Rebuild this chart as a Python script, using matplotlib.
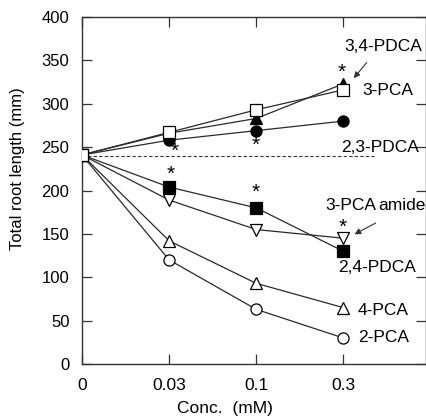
import matplotlib
matplotlib.use("Agg")
import matplotlib.pyplot as plt

plt.rcParams['font.family'] = ['Liberation Sans', 'DejaVu Sans']

conc_labels = ["0", "0.03", "0.1", "0.3"]
control = 240

pca3 = [241, 267, 293, 316]          # open square
pdca34 = [241, 266, 283, 323]        # filled triangle
pdca23 = [241, 258, 269, 280]        # filled circle
pdca24 = [241, 204, 180, 130]        # filled square
amide3 = [241, 189, 155, 145]        # open inverted triangle
pca4 = [241, 142, 93, 65]            # open triangle
pca2 = [241, 120, 63, 30]            # open circle

star_x = [1.07, 1.02, 2.0, 2.0, 2.98, 2.99]
star_y = [245, 219, 252, 198, 336, 158]

fig = plt.figure(figsize=(4.27, 4.20), dpi=100)
W, H = 427, 420
ax = fig.add_axes([82 / W, 1 - 364 / H, (426 - 82) / W, (364 - 17) / H])

x = list(range(len(conc_labels)))
lc = '#2a2a2a'
ms = 8
common = dict(color=lc, lw=0.9, markeredgecolor='black', markeredgewidth=0.9, markersize=ms, zorder=3)

ax.plot(x, pca2, marker='o', markerfacecolor='white', **common)
ax.plot(x, pca4, marker='^', markerfacecolor='white', **common)
ax.plot(x, amide3, marker='v', markerfacecolor='white', **common)
ax.plot(x, pdca24, marker='s', markerfacecolor='black', **common)
ax.plot(x, pdca23, marker='o', markerfacecolor='black', **common)
ax.plot(x, pdca34, marker='^', markerfacecolor='black', **common)
ax.plot(x, pca3, marker='s', markerfacecolor='white', **common)

ax.plot([0, 3.35], [control, control], ls=(0, (3, 2)), color='#333333', lw=0.8, zorder=1)

for sx, sy in zip(star_x, star_y):
    ax.text(sx, sy, '*', ha='center', va='center', fontsize=15, color='black', zorder=4)

ax.set_xlim(0, 3.95)
ax.set_ylim(0, 400)
ax.set_xticks(x)
ax.set_xticklabels(conc_labels)
ax.set_yticks(range(0, 401, 50))
ax.tick_params(axis='both', direction='in', length=7, width=0.9, labelsize=12,
               top=True, right=True, colors='#333333', labelcolor='black')
ax.tick_params(axis='x', labelsize=12.5)
ax.tick_params(axis='y', pad=9)
ax.tick_params(axis='x', pad=10)
for s in ax.spines.values():
    s.set_linewidth(1.0)
    s.set_color('#333333')

ax.set_xlabel('Conc.  (mM)', fontsize=12.5)
ax.xaxis.set_label_coords((225 - 82) / (426 - 82), -(408 - 364) / (364 - 17))
ax.xaxis.label.set_va('center')
ax.set_ylabel('Total root length (mm)', fontsize=12)
ax.yaxis.set_label_coords(-(82 - 18) / (426 - 82), (364 - 169) / (364 - 17))
ax.yaxis.label.set_va('center')

fs = 12.5
ax.text(3.46, 366, '3,4-PDCA', fontsize=fs, ha='center', va='center')
ax.annotate('', xy=(3.1, 327), xytext=(3.29, 350),
            arrowprops=dict(arrowstyle='-|>', color='#333333', lw=0.8, mutation_scale=9))
ax.text(3.22, 315, '3-PCA', fontsize=fs, ha='left', va='center')
ax.text(2.98, 250, '2,3-PDCA', fontsize=fs, ha='left', va='center')
ax.text(2.79, 183, '3-PCA', fontsize=fs, ha='left', va='center')
ax.text(3.95, 183, 'amide', fontsize=fs, ha='right', va='center')
ax.annotate('', xy=(3.1, 148), xytext=(3.4, 164),
            arrowprops=dict(arrowstyle='-|>', color='#333333', lw=0.8, mutation_scale=9))
ax.text(2.94, 111, '2,4-PDCA', fontsize=fs, ha='left', va='center')
ax.text(3.17, 62, '4-PCA', fontsize=fs, ha='left', va='center')
ax.text(3.17, 30, '2-PCA', fontsize=fs, ha='left', va='center')

fig.savefig('out.png', dpi=100)
